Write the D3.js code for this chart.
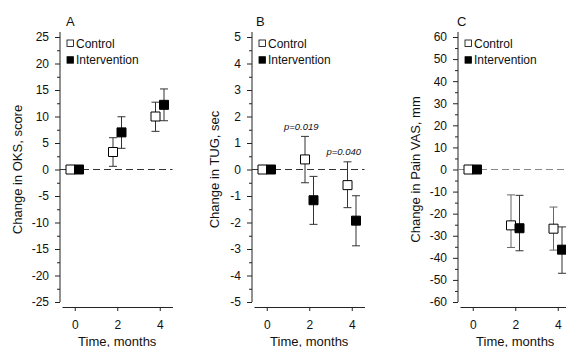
<!DOCTYPE html>
<html>
<head>
<meta charset="utf-8">
<script src="https://cdn.jsdelivr.net/npm/d3@7"></script>
<style>
  body { margin: 0; background: #fff; }
  text { font-family: Arial, "Liberation Sans", sans-serif; fill: #111; }
</style>
</head>
<body>
<svg id="chart" width="566" height="347"></svg>
<script>
// data
const months = [0, 2, 4];
const groups = ["Control", "Intervention"];

// A: OKS score
const oksControl   = [0, 3.3, 10.0];
const oksControlLo = [0, 0.6, 7.2];
const oksControlHi = [0, 6.0, 12.7];
const oksInterv    = [0, 7.0, 12.2];
const oksIntervLo  = [0, 4.0, 9.2];
const oksIntervHi  = [0, 9.95, 15.2];
const oksTicks = [-25, -20, -15, -10, -5, 0, 5, 10, 15, 20, 25];

// B: TUG, sec
const tugControl   = [0, 0.38, -0.59];
const tugControlLo = [0, -0.5, -1.44];
const tugControlHi = [0, 1.25, 0.29];
const tugInterv    = [0, -1.16, -1.93];
const tugIntervLo  = [0, -2.07, -2.88];
const tugIntervHi  = [0, -0.26, -0.99];
const tugTicks = [-5, -4, -3, -2, -1, 0, 1, 2, 3, 4, 5];
const tugPLabels = ["p=0.019", "p=0.040"];
const tugPMonths = [2, 4];

// C: Pain VAS, mm
const vasControl   = [0, -25.3, -26.8];
const vasControlLo = [0, -35.3, -36.5];
const vasControlHi = [0, -11.5, -17.0];
const vasInterv    = [0, -26.6, -36.3];
const vasIntervLo  = [0, -36.8, -47.0];
const vasIntervHi  = [0, -11.7, -26.0];
const vasTicks = [-60, -50, -40, -30, -20, -10, 0, 10, 20, 30, 40, 50, 60];

const panels = [
  { letter: "A", ax: 60, letterX: 66, titleX: 21.5, label: "Change in OKS, score",
    ticks: oksTicks, minorStep: 2.5, dash: "#333", ctrlBar: "#333",
    ctrl: [oksControl, oksControlLo, oksControlHi], intv: [oksInterv, oksIntervLo, oksIntervHi] },
  { letter: "B", ax: 252, letterX: 256, titleX: 219, label: "Change in TUG, sec",
    ticks: tugTicks, minorStep: 0.5, dash: "#333", ctrlBar: "#333",
    ctrl: [tugControl, tugControlLo, tugControlHi], intv: [tugInterv, tugIntervLo, tugIntervHi],
    pLabels: tugPLabels, pMonths: tugPMonths },
  { letter: "C", ax: 458, letterX: 457, titleX: 419.5, label: "Change in Pain VAS, mm",
    ticks: vasTicks, minorStep: 5, dash: "#888", ctrlBar: "#666",
    ctrl: [vasControl, vasControlLo, vasControlHi], intv: [vasInterv, vasIntervLo, vasIntervHi] }
];

const svg = d3.select("#chart");
const yTop = 37, yBottom = 302, xAxisY = 307;
const offset = 0.2;   // control left, intervention right of each time point
const square = d3.symbol(d3.symbolSquare, 81);
const plain = d => String(d);   // hyphen minus, no decimals

panels.forEach(p => {
  const g = svg.append("g");
  const lo = d3.min(p.ticks), hi = d3.max(p.ticks);
  const x = d3.scaleLinear().domain([-0.6, 4.6]).range([p.ax + 2, p.ax + 112.5]);
  const y = d3.scaleLinear().domain([lo, hi]).range([yBottom, yTop]);

  // y axis: major + minor ticks, own line
  const minor = d3.range(lo, hi + 1e-9, p.minorStep).filter(v => !p.ticks.includes(v));
  const yg = g.append("g").attr("transform", `translate(${p.ax},0)`);
  yg.call(d3.axisLeft(y).tickValues(p.ticks).tickFormat(plain).tickSize(5).tickPadding(6).tickSizeOuter(0));
  yg.append("g").call(d3.axisLeft(y).tickValues(minor).tickSize(3).tickFormat(""))
    .select(".domain").remove();
  yg.select(".domain").remove();
  yg.append("line").attr("y1", yTop - 5).attr("y2", yBottom).attr("stroke", "#222");
  yg.selectAll("text").style("font-size", "12px");
  yg.selectAll(".tick line").attr("stroke", "#222");

  // x axis, offset below
  const xg = g.append("g").attr("transform", `translate(0,${xAxisY})`)
    .call(d3.axisBottom(x).tickValues(months).tickFormat(plain).tickSize(4).tickPadding(9).tickSizeOuter(0));
  xg.selectAll("text").style("font-size", "12px");
  xg.select(".domain").attr("stroke", "#222");
  xg.selectAll(".tick line").attr("stroke", "#222");

  // zero reference line
  g.append("line")
    .attr("x1", p.ax).attr("x2", x(4.6))
    .attr("y1", y(0)).attr("y2", y(0))
    .attr("stroke", p.dash).attr("stroke-dasharray", "7,4");

  const series = [
    { vals: p.ctrl, dx: -offset, fill: "#fff", bar: p.ctrlBar },
    { vals: p.intv, dx: offset, fill: "#000", bar: "#333" }
  ];

  series.forEach(s => {
    const rows = months.map((m, i) => ({ m: m + s.dx, v: s.vals[0][i], lo: s.vals[1][i], hi: s.vals[2][i] }))
      .filter(d => d.hi !== d.lo);
    const eb = g.append("g").attr("stroke", s.bar).attr("fill", "none");
    rows.forEach(d => {
      eb.append("line").attr("x1", x(d.m)).attr("x2", x(d.m)).attr("y1", y(d.lo)).attr("y2", y(d.hi));
      [d.lo, d.hi].forEach(e => {
        eb.append("line").attr("x1", x(d.m) - 4).attr("x2", x(d.m) + 4).attr("y1", y(e)).attr("y2", y(e));
      });
    });
  });

  series.forEach(s => {
    g.append("g").selectAll("path")
      .data(months.map((m, i) => ({ m: m + s.dx, v: s.vals[0][i] })))
      .join("path")
      .attr("d", square)
      .attr("transform", d => `translate(${x(d.m)},${y(d.v)})`)
      .attr("fill", s.fill).attr("stroke", "#000").attr("stroke-width", 1);
  });

  // p-values
  if (p.pLabels) {
    p.pLabels.forEach((t, k) => {
      const i = months.indexOf(p.pMonths[k]);
      const top = Math.max(p.ctrl[2][i], p.intv[2][i]);
      g.append("text")
        .attr("x", x(p.pMonths[k]) - 8).attr("y", y(top) - 6.5)
        .attr("text-anchor", "middle")
        .style("font-size", "9.5px").style("font-style", "italic")
        .text(t);
    });
  }

  // legend
  groups.forEach((name, k) => {
    const ly = 40 + k * 16.7;
    g.append("rect").attr("x", p.ax + 7).attr("y", ly).attr("width", 6.5).attr("height", 6.5)
      .attr("fill", k === 0 ? "#fff" : "#000").attr("stroke", "#000").attr("stroke-width", 0.8);
    g.append("text").attr("x", p.ax + 16).attr("y", ly + 7.6)
      .style("font-size", "12px").text(name);
  });

  // titles
  g.append("text").attr("x", p.letterX).attr("y", 26).style("font-size", "13px").text(p.letter);
  g.append("text")
    .attr("transform", `translate(${p.titleX},${(yTop + yBottom) / 2}) rotate(-90)`)
    .attr("text-anchor", "middle").style("font-size", "13px").text(p.label);
  g.append("text").attr("x", x(2)).attr("y", 345.5).attr("text-anchor", "middle")
    .style("font-size", "13px").text("Time, months");
});
</script>
</body>
</html>
